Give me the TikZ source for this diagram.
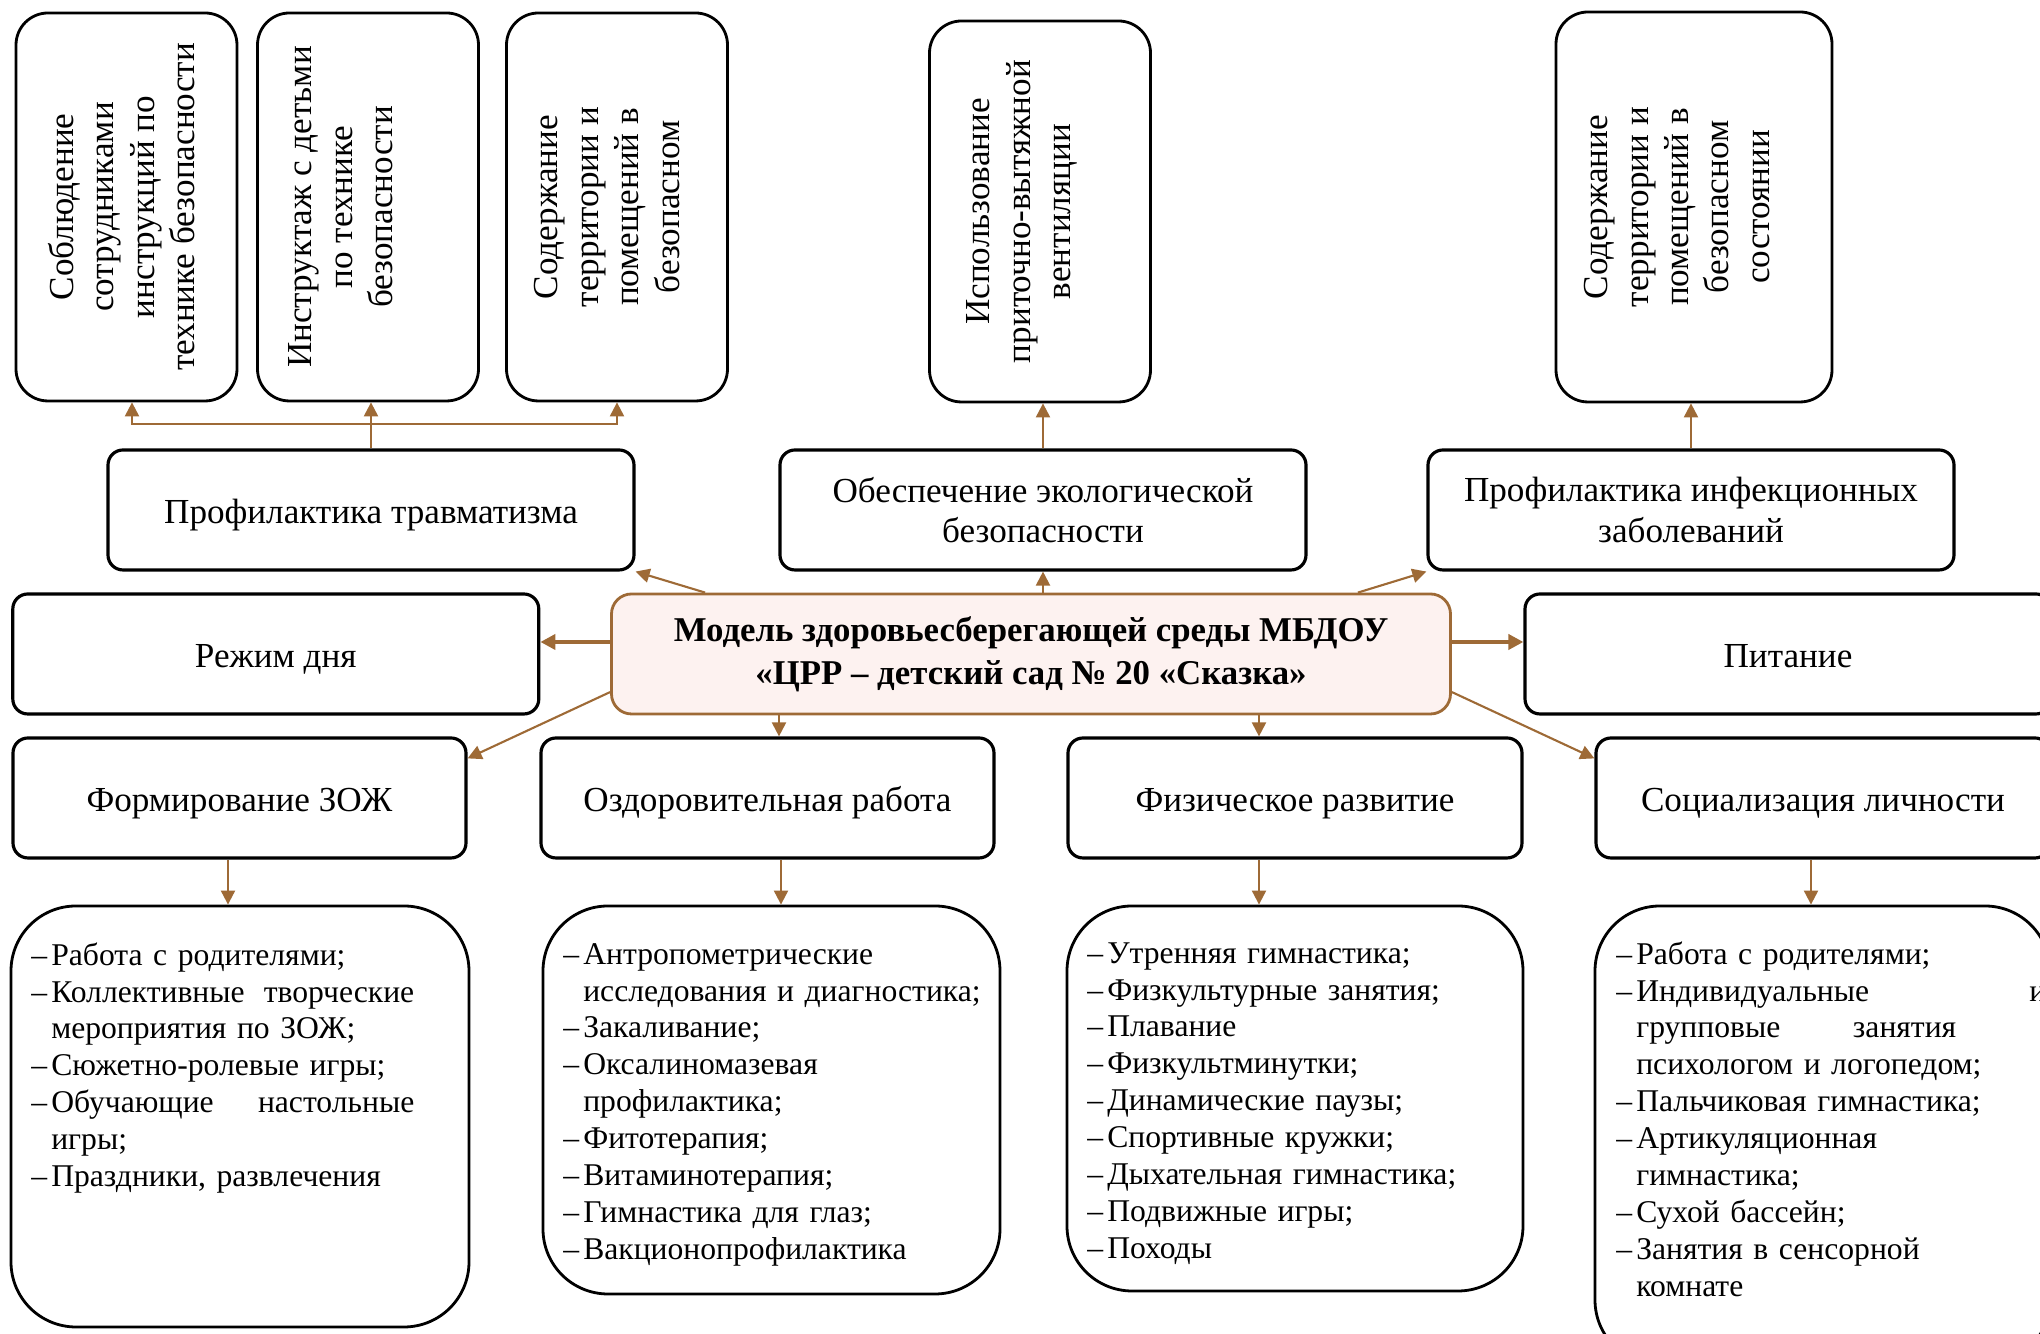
\documentclass[tikz,border=0pt]{standalone}
\usepackage{fontspec}
\setmainfont{Liberation Serif}
\usetikzlibrary{positioning,calc,arrows.meta}

\definecolor{arrowbrown}{RGB}{158,106,54}
\definecolor{modelfill}{RGB}{253,242,240}

% list lines: dash item, continuation
\newcommand{\itemdash}{\strut\makebox[0.2cm][l]{–}}
\newcommand{\itemcont}{\strut\hspace*{0.2cm}}

\begin{document}
\begin{tikzpicture}[
  topbox/.style={draw, line width=0.8pt, rounded corners=0.32cm,
    minimum width=2.21cm, minimum height=3.88cm},
  toptext/.style={rotate=90, align=center, inner sep=0pt, font=\fontsize{10}{11.5}\selectfont},
  midbox/.style={draw, line width=0.9pt, rounded corners=0.15cm, align=center,
    minimum width=5.26cm, minimum height=1.2cm, font=\fontsize{10}{11.5}\selectfont},
  oneline/.style={text height=9.7pt, text depth=2.2pt},
  lowbox/.style={midbox, oneline, minimum width=4.53cm},
  modelbox/.style={draw=arrowbrown, fill=modelfill, line width=0.8pt, rounded corners=0.2cm,
    align=center, minimum width=8.39cm, minimum height=1.2cm,
    font=\bfseries\fontsize{9.9}{12.2}\selectfont},
  listbox/.style={draw, line width=0.8pt, rounded corners=0.65cm},
  listtext/.style={anchor=north west, inner sep=0pt, text width=4.4cm, align=left,
    font=\fontsize{9}{10.5}\selectfont},
  conn/.style={draw=arrowbrown, line width=0.6pt},
  arr/.style={conn, -{Triangle[length=4pt,width=4pt]}},
  thickarr/.style={conn, line width=1.1pt, -{Triangle[length=4.3pt,width=4.3pt]}}
]
  \useasboundingbox (0,0) rectangle (20.4,13.34);

  % Top row
  \node[topbox] (t1) at (1.265,11.27) {};
  \node[topbox] (t2) at (3.68,11.27) {};
  \node[topbox] (t3) at (6.17,11.27) {};
  \node[topbox, minimum height=3.81cm] (t4) at (10.40,11.225) {};
  \node[topbox, minimum width=2.76cm, minimum height=3.90cm] (t5) at (16.94,11.27) {};
  \node[toptext] (t1txt) at ([xshift=-0.05cm]t1.center) {Соблюдение\\сотрудниками\\инструкций по\\технике безопасности};
  \node[toptext] (t2txt) at ([xshift=-0.27cm]t2.center) {Инструктаж с детьми\\по технике\\безопасности};
  \node[toptext] (t3txt) at ([xshift=-0.10cm]t3.center) {Содержание\\территории и\\помещений в\\безопасном};
  \node[toptext] (t4txt) at ([xshift=-0.18cm]t4.center) {Использование\\приточно-вытяжной\\вентиляции};
  \node[toptext] (t5txt) at ([xshift=-0.17cm]t5.center) {Содержание\\территории и\\помещений в\\безопасном\\состоянии};

  % Second row
  \node[midbox, oneline] (travm) at (3.71,8.24) {Профилактика травматизма};
  \node[midbox] (eco) at (10.43,8.24) {Обеспечение экологической\\безопасности};
  \node[midbox] (inf) at (16.91,8.24) {Профилактика инфекционных\\заболеваний};

  % Middle row
  \node[midbox, oneline] (regime) at (2.758,6.80) {Режим дня};
  \node[modelbox] (model) at (10.31,6.80) {Модель здоровьесберегающей среды МБДОУ\\«ЦРР – детский сад № 20 «Сказка»};
  \node[midbox, oneline] (pit) at (17.88,6.80) {Питание};

  % Fourth row
  \node[lowbox] (zoj) at (2.395,5.36) {Формирование ЗОЖ};
  \node[lowbox] (ozd) at (7.675,5.36) {Оздоровительная работа};
  \node[lowbox, minimum width=4.54cm] (phys) at (12.95,5.36) {Физическое развитие};
  \node[lowbox, minimum width=4.54cm] (soc) at (18.23,5.36) {Социализация личности};

  % Lists
  \node[listbox, minimum width=4.58cm, minimum height=4.21cm] (l1) at (2.40,2.175) {};
  \node[listbox, minimum width=4.57cm, minimum height=3.88cm] (l2) at (7.715,2.34) {};
  \node[listbox, minimum width=4.56cm, minimum height=3.85cm] (l3) at (12.95,2.355) {};
  \node[listbox, minimum width=4.55cm, minimum height=4.59cm] (l4) at (18.225,1.985) {};

  \node[listtext] (l1txt) at ([xshift=0.21cm,yshift=-0.34cm]l1.north west) {%
    \itemdash Работа с родителями;\\
    \itemdash \makebox[3.63cm][l]{Коллективные\hfill творческие}\\
    \itemcont мероприятия по ЗОЖ;\\
    \itemdash Сюжетно-ролевые игры;\\
    \itemdash \makebox[3.63cm][l]{Обучающие\hfill настольные}\\
    \itemcont игры;\\
    \itemdash Праздники, развлечения};
  \node[listtext] (l2txt) at ([xshift=0.21cm,yshift=-0.33cm]l2.north west) {%
    \itemdash Антропометрические\\
    \itemcont исследования и диагностика;\\
    \itemdash Закаливание;\\
    \itemdash Оксалиномазевая\\
    \itemcont профилактика;\\
    \itemdash Фитотерапия;\\
    \itemdash Витаминотерапия;\\
    \itemdash Гимнастика для глаз;\\
    \itemdash Вакционопрофилактика};
  \node[listtext] (l3txt) at ([xshift=0.21cm,yshift=-0.32cm]l3.north west) {%
    \itemdash Утренняя гимнастика;\\
    \itemdash Физкультурные занятия;\\
    \itemdash Плавание\\
    \itemdash Физкультминутки;\\
    \itemdash Динамические паузы;\\
    \itemdash Спортивные кружки;\\
    \itemdash Дыхательная гимнастика;\\
    \itemdash Подвижные игры;\\
    \itemdash Походы};
  \node[listtext] (l4txt) at ([xshift=0.22cm,yshift=-0.33cm]l4.north west) {%
    \itemdash Работа с родителями;\\
    \itemdash \makebox[4.10cm][l]{Индивидуальные\hfill и}\\
    \itemcont \makebox[3.2cm][l]{групповые\hfill занятия}\\
    \itemcont психологом и логопедом;\\
    \itemdash Пальчиковая гимнастика;\\
    \itemdash Артикуляционная\\
    \itemcont гимнастика;\\
    \itemdash Сухой бассейн;\\
    \itemdash Занятия в сенсорной\\
    \itemcont комнате};

  % Connectors up
  \coordinate (travmbr) at ($(travm.north)+(0,0.24)$);
  \draw[conn] (travm.north) -- (travmbr);
  \draw[arr] (travmbr) -| ([xshift=0.055cm]t1.south);
  \draw[arr] (travmbr) -- (travmbr |- t2.south);
  \draw[arr] (travmbr) -| (t3.south);
  \draw[arr] (eco.north) -- (eco.north |- t4.south);
  \draw[arr] (inf.north) -- (inf.north |- t5.south);

  % Connectors from the model
  \draw[arr] ([xshift=0.95cm]model.north west) -- (travm.south east);
  \draw[arr] (eco.south |- model.north) -- (eco.south);
  \draw[arr] ([xshift=-0.94cm]model.north east) -- (inf.south west);
  \draw[thickarr] ([yshift=0.12cm]model.west) -- ([yshift=0.12cm]model.west -| regime.east);
  \draw[thickarr] ([yshift=0.12cm]model.east) -- ([yshift=0.12cm]model.east -| pit.west);
  \draw[arr] ([yshift=0.233cm]model.south west) -- ([yshift=-0.22cm]zoj.north east);
  \draw[arr] ([yshift=0.233cm]model.south east) -- ([yshift=-0.22cm]soc.north west);
  \coordinate (ozdin) at ([xshift=0.115cm]ozd.north);
  \coordinate (physin) at ([xshift=-0.36cm]phys.north);
  \draw[arr] (model.south -| ozdin) -- (ozdin);
  \draw[arr] (model.south -| physin) -- (physin);

  % Connectors down to the lists
  \coordinate (zojout) at ([xshift=-0.115cm]zoj.south);
  \coordinate (ozdout) at ([xshift=0.135cm]ozd.south);
  \coordinate (physout) at ([xshift=-0.36cm]phys.south);
  \coordinate (socout) at ([xshift=-0.12cm]soc.south);
  \draw[arr] (zojout) -- (zojout |- l1.north);
  \draw[arr] (ozdout) -- (ozdout |- l2.north);
  \draw[arr] (physout) -- (physout |- l3.north);
  \draw[arr] (socout) -- (socout |- l4.north);
\end{tikzpicture}
\end{document}
